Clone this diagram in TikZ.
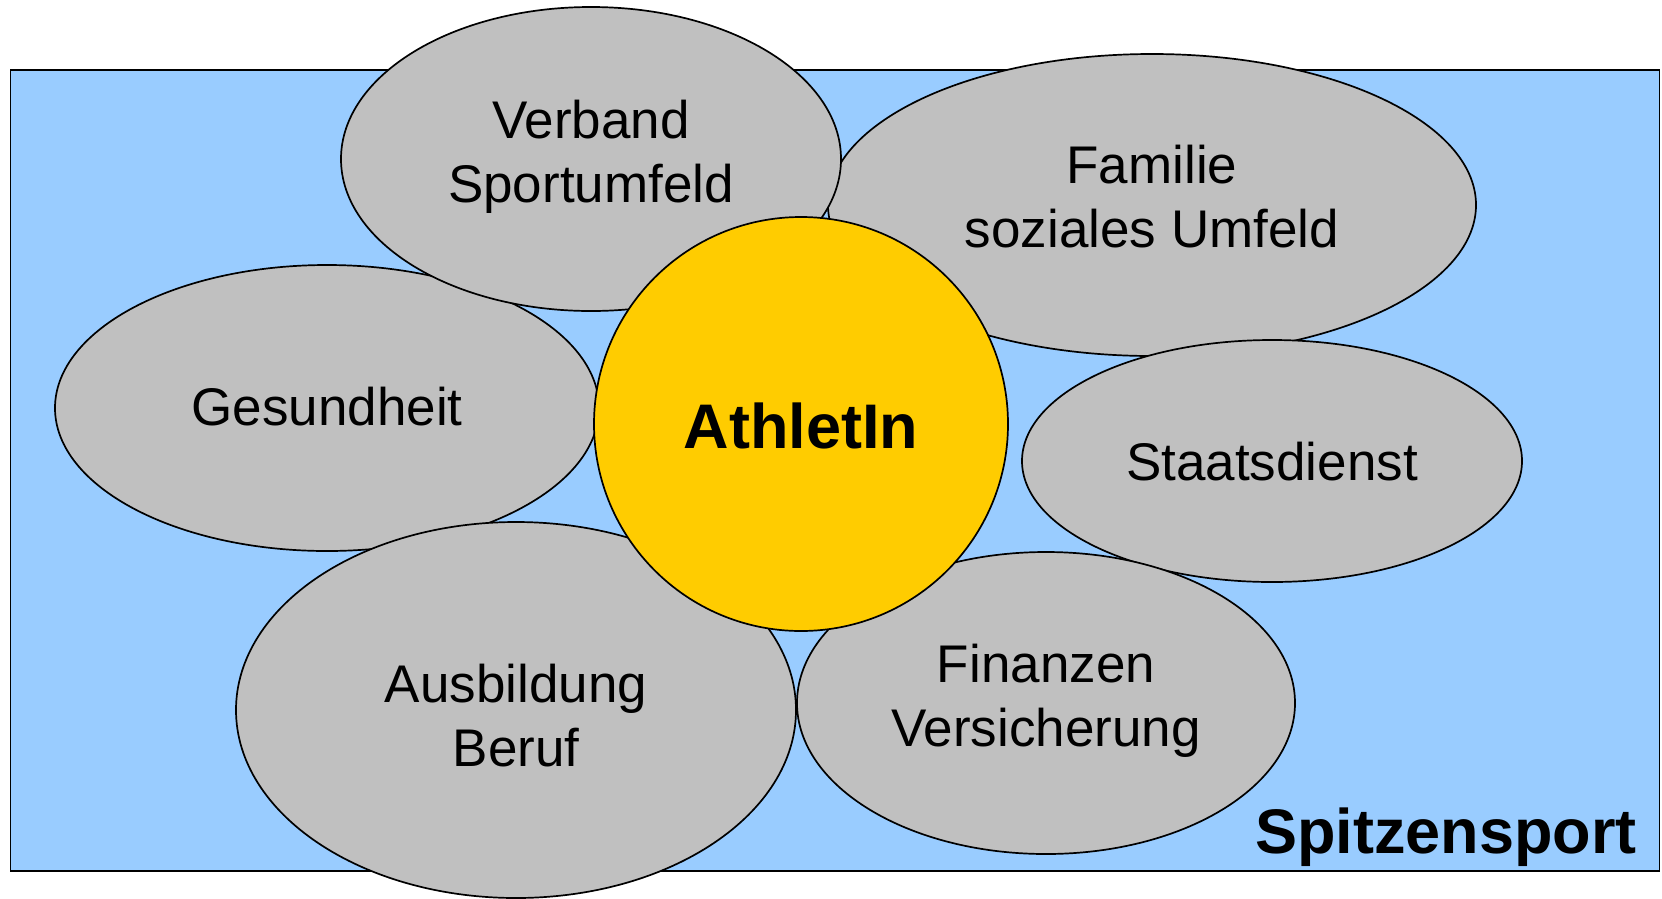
\documentclass[tikz,border=0pt]{standalone}
\usepackage{fontspec}
\setmainfont{Liberation Sans}
\usetikzlibrary{shapes.geometric}
\definecolor{skyblue}{HTML}{99CCFF}
\definecolor{petal}{HTML}{C0C0C0}
\definecolor{gold}{HTML}{FFCC00}
\tikzset{
  petalbox/.style={ellipse, draw=black, fill=petal, line width=1.7pt, inner sep=0pt},
  lbl/.style={align=center, font=\fontsize{53}{64}\selectfont, inner sep=0pt},
  boldlbl/.style={font=\fontsize{63}{75}\selectfont\bfseries, inner sep=0pt},
}
\begin{document}
\begin{tikzpicture}[x=1pt,y=-1pt]
\useasboundingbox (0,0) rectangle (1662,898);
\node[draw=black, fill=skyblue, line width=1.7pt, minimum width=1649pt, minimum height=801pt, inner sep=0pt, anchor=north west] (frame) at (9.5,69) {};
\node[petalbox, minimum width=648pt, minimum height=302pt] (familie) at (1152,205) {};
\node[petalbox, minimum width=544pt, minimum height=286pt] (gesundheit) at (327,408) {};
\node[petalbox, minimum width=500pt, minimum height=304pt] (verband) at (591,159) {};
\node[petalbox, minimum width=500pt, minimum height=242pt] (staat) at (1272,461) {};
\node[petalbox, minimum width=560pt, minimum height=376pt] (ausbildung) at (516,710) {};
\node[petalbox, minimum width=498pt, minimum height=302pt] (finanzen) at (1046,703) {};
\node[circle, draw=black, fill=gold, line width=1.7pt, minimum size=414pt, inner sep=0pt] (athlet) at (801,424) {};
\node[lbl] (tverband) at (591,156.5) {Verband\\Sportumfeld};
\node[lbl] (tfamilie) at (1152,197) {Familie\\soziales Umfeld};
\node[lbl] (tgesund) at (327,407) {Gesundheit};
\node[lbl] (tstaat) at (1272,462) {Staatsdienst};
\node[lbl] (tausb) at (516,715.5) {Ausbildung\\Beruf};
\node[lbl] (tfin) at (1046,700.5) {Finanzen\\Versicherung};
\node[boldlbl] (tathlet) at (801,426) {AthletIn};
\node[boldlbl, anchor=base east] (tspitze) at (1637,853) {Spitzensport};
\end{tikzpicture}
\end{document}
